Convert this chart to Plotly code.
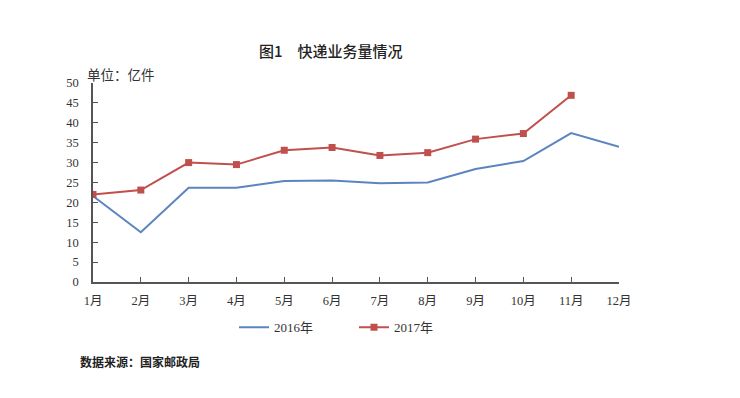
import plotly.graph_objects as go

months = ["1月", "2月", "3月", "4月", "5月", "6月", "7月", "8月", "9月", "10月", "11月", "12月"]
y2016 = [21.6, 12.5, 23.7, 23.7, 25.4, 25.5, 24.8, 25.0, 28.4, 30.4, 37.4, 34.0]
y2017 = [22.0, 23.1, 30.0, 29.5, 33.1, 33.8, 31.8, 32.5, 35.9, 37.3, 46.9]
y_ticks = [0, 5, 10, 15, 20, 25, 30, 35, 40, 45, 50]

BLUE = "#5b84c0"
RED = "#c0504d"
AXIS = "#555555"
serif = "Liberation Serif, Noto Sans CJK SC, serif"
cjk = "Noto Sans CJK SC, sans-serif"

# page body has an 8px default margin; figure is sized to fit inside window
OFF = 8
W, H = 740 - OFF, 398 - OFF
L, R, T, B = 93, 619, 82.5, 282.5   # plot area in window pixels
ml, mr, mt, mb = L - OFF, (W + OFF) - R, T - OFF, (H + OFF) - B
pw, ph = R - L, B - T


def px_x(x):
    return (x - L) / pw


def px_y(y):
    return (B - y) / ph


fig = go.Figure()
fig.add_trace(go.Scatter(x=months, y=y2016, mode="lines", name="2016年",
                         line=dict(color=BLUE, width=2)))
fig.add_trace(go.Scatter(x=months[:len(y2017)], y=y2017, mode="lines+markers", name="2017年",
                         line=dict(color=RED, width=2),
                         marker=dict(symbol="square", size=7, color=RED)))

fig.update_layout(
    width=W, height=H,
    paper_bgcolor="white", plot_bgcolor="white",
    margin=dict(l=ml, r=mr, t=mt, b=mb),
    font=dict(family=serif, size=12, color="#333333"),
    showlegend=True,
    legend=dict(orientation="h", x=px_x(234), xanchor="left", y=px_y(313), yanchor="top",
                font=dict(family=serif, size=13, color="#333333"),
                itemwidth=30, entrywidth=75, traceorder="normal"),
    annotations=[
        dict(text="图1　快递业务量情况", xref="paper", yref="paper", x=px_x(331), y=px_y(50),
             xanchor="center", yanchor="middle", showarrow=False,
             font=dict(family=cjk, size=15, color="#222222", weight=500)),
        dict(text="单位：亿件", xref="paper", yref="paper", x=px_x(85), y=px_y(73),
             xanchor="left", yanchor="middle", showarrow=False,
             font=dict(family=cjk, size=13.5, color="#333333")),
        dict(text="数据来源：国家邮政局", xref="paper", yref="paper", x=px_x(78), y=px_y(362),
             xanchor="left", yanchor="middle", showarrow=False,
             font=dict(family=cjk, size=12, color="#222222", weight="bold")),
    ],
)

fig.update_xaxes(type="category", categoryorder="array", categoryarray=months,
                 range=[0, 11], showgrid=False, zeroline=False,
                 showline=True, linecolor=AXIS, linewidth=1.5,
                 ticks="inside", ticklen=5, tickcolor=AXIS, tickwidth=1,
                 tickfont=dict(family=serif, size=12.5, color="#333333"),
                 ticklabelstandoff=6)
fig.update_yaxes(range=[0, 50], tickvals=y_ticks, showgrid=False, zeroline=False,
                 showline=True, linecolor=AXIS, linewidth=1.5,
                 ticks="inside", ticklen=5, tickcolor=AXIS, tickwidth=1,
                 tickfont=dict(family=serif, size=12.5, color="#333333"),
                 ticklabelstandoff=10)

fig.write_html("out.html")
